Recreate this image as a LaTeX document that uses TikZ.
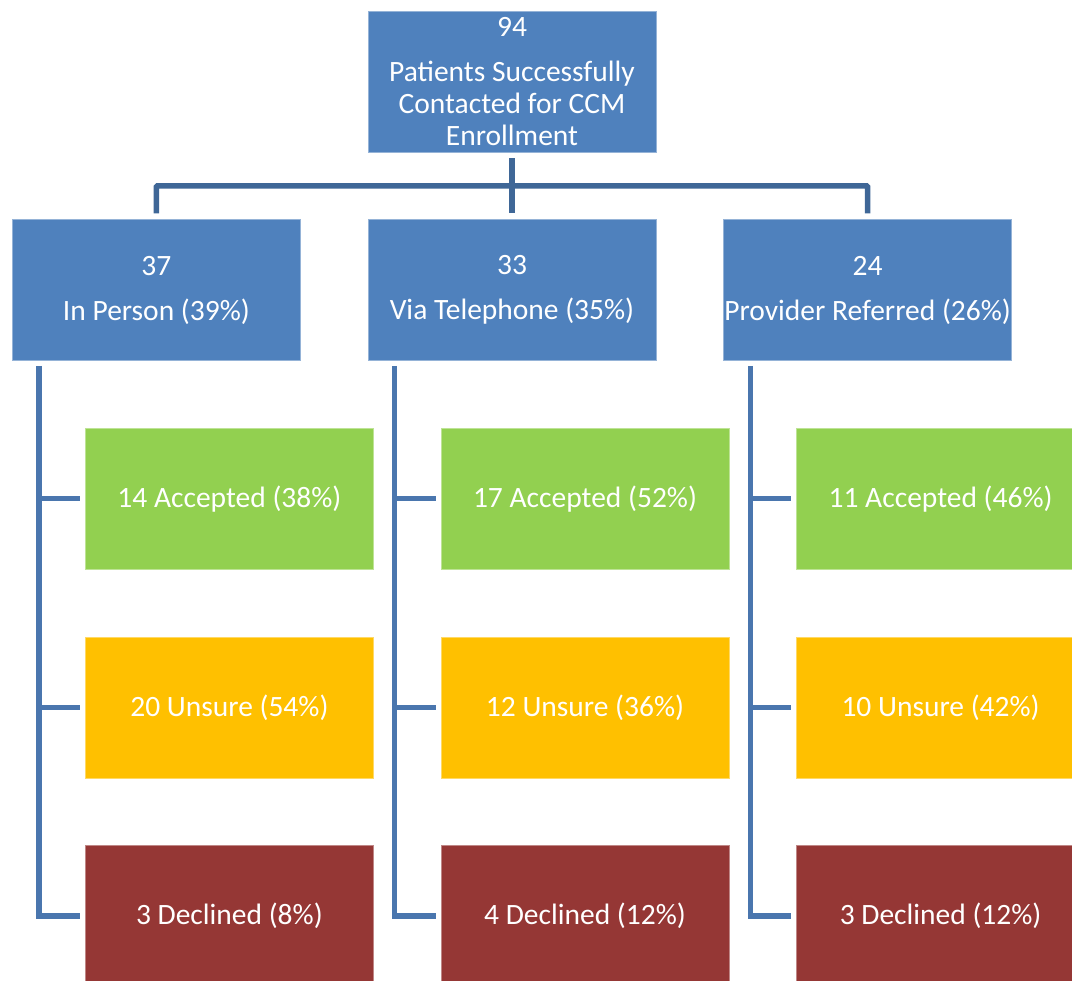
\documentclass[tikz,border=0pt]{standalone}
\usepackage{fontspec}
\setmainfont{Carlito}
\usetikzlibrary{positioning, calc}
\definecolor{boxblue}{HTML}{4F81BD}
\definecolor{boxgreen}{HTML}{92D050}
\definecolor{boxyellow}{HTML}{FFC000}
\definecolor{boxred}{HTML}{953735}
\definecolor{topline}{HTML}{3F6797}
\definecolor{sideline}{HTML}{4A76AE}

\begin{document}
\begin{tikzpicture}[x=1pt, y=1pt,
	box/.style={rectangle, fill=#1, draw=#1!60!white, line width=0.6pt,
		minimum width=288pt, minimum height=141pt, inner sep=0pt,
		text=white, align=center, font=\fontsize{29.5}{32}\selectfont},
	topconn/.style={draw=topline, line width=5.5pt, shorten <=6pt, shorten >=6pt},
	sideconn/.style={draw=sideline, line width=5.5pt, shorten >=5pt}]
	\useasboundingbox (0,0) rectangle (1072,-981);
	%%% Boxes
	% Totale
	\node[box=boxblue] (top) at (512,-81.5) {94\\[13pt]Patients Successfully\\Contacted for CCM\\Enrollment};
	% Modalita
	\node[box=boxblue, below=67pt of top] (tel) {33\\[13pt]Via Telephone (35\%)};
	\node[box=boxblue, left=67pt of tel] (person) {37\\[13pt]In Person (39\%)};
	\node[box=boxblue, right=67pt of tel] (prov) {24\\[13pt]Provider Referred (26\%)};
	% In Person
	\node[box=boxgreen, below=67pt of person, xshift=73pt] (acc1) {14 Accepted (38\%)};
	\node[box=boxyellow, below=67pt of acc1] (uns1) {20 Unsure (54\%)};
	\node[box=boxred, below=67pt of uns1] (dec1) {3 Declined (8\%)};
	% Via Telephone
	\node[box=boxgreen, below=67pt of tel, xshift=73pt] (acc2) {17 Accepted (52\%)};
	\node[box=boxyellow, below=67pt of acc2] (uns2) {12 Unsure (36\%)};
	\node[box=boxred, below=67pt of uns2] (dec2) {4 Declined (12\%)};
	% Provider Referred
	\node[box=boxgreen, below=67pt of prov, xshift=73pt] (acc3) {11 Accepted (46\%)};
	\node[box=boxyellow, below=67pt of acc3] (uns3) {10 Unsure (42\%)};
	\node[box=boxred, below=67pt of uns3] (dec3) {3 Declined (12\%)};
	%%% Connectors
	% Top
	\draw[topconn] (top.south) -- (tel.north);
	\draw[topconn, rounded corners=1pt] (person.north) |- ($(top.south)!0.5!(tel.north)$) -| (prov.north);
	% Sides
	\coordinate (trunk1) at ([xshift=27pt, yshift=-5pt]person.south west);
	\coordinate (trunk2) at ([xshift=27pt, yshift=-5pt]tel.south west);
	\coordinate (trunk3) at ([xshift=27pt, yshift=-5pt]prov.south west);
	\draw[sideconn] (trunk1) |- (dec1.west);
	\draw[sideconn] (trunk1 |- acc1.west) -- (acc1.west);
	\draw[sideconn] (trunk1 |- uns1.west) -- (uns1.west);
	\draw[sideconn] (trunk2) |- (dec2.west);
	\draw[sideconn] (trunk2 |- acc2.west) -- (acc2.west);
	\draw[sideconn] (trunk2 |- uns2.west) -- (uns2.west);
	\draw[sideconn] (trunk3) |- (dec3.west);
	\draw[sideconn] (trunk3 |- acc3.west) -- (acc3.west);
	\draw[sideconn] (trunk3 |- uns3.west) -- (uns3.west);
\end{tikzpicture}
\end{document}
